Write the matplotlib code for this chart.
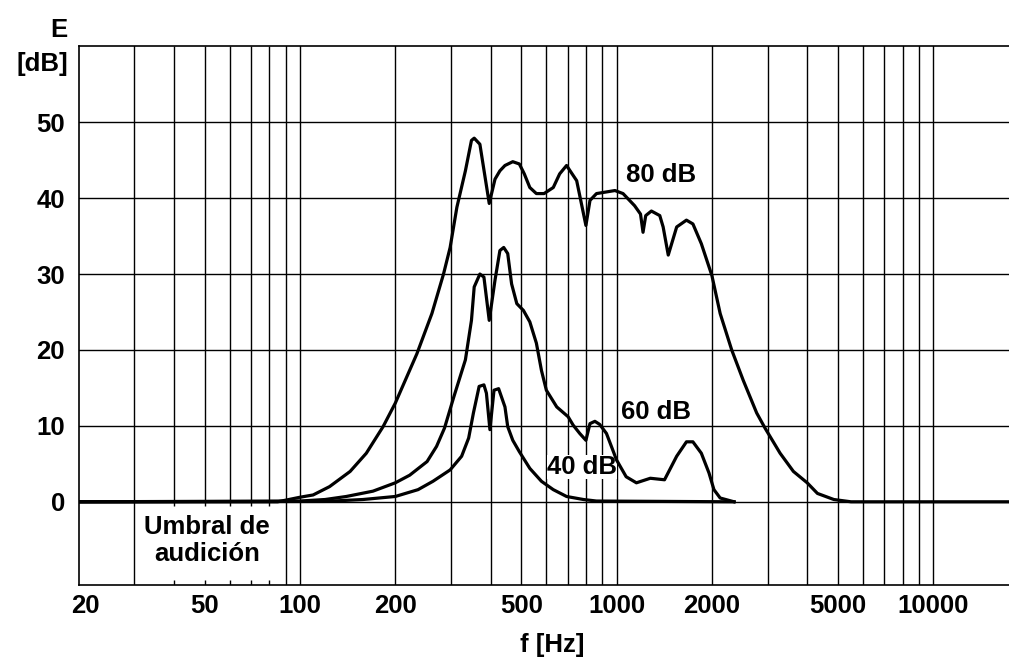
import matplotlib
matplotlib.use('Agg')
import matplotlib.pyplot as plt
import matplotlib.transforms as mtransforms
from matplotlib.ticker import NullLocator

plt.rcParams['font.family'] = ['Liberation Sans', 'DejaVu Sans']
plt.rcParams['font.weight'] = 'bold'
FONT_SIZE = 18.5

# curves: frequency [Hz] -> excitation E [dB]
f80 = [20, 85, 100, 110, 124, 144, 162, 183, 200, 234, 261, 284, 298, 313, 333, 348, 355, 370, 396, 413,
       428, 444, 470, 493, 511, 532, 558, 590, 631, 661, 695, 713, 748, 800, 824, 864, 988, 1048, 1140, 1190,
       1212, 1236, 1288, 1369, 1403, 1456, 1548, 1662, 1742, 1852, 2000, 2124, 2310, 2512, 2770, 2944, 3284, 3618, 4000, 4310,
       4855, 5500, 20000]
e80 = [0, 0, 0.6, 0.9, 2.0, 4.0, 6.4, 9.9, 13.0, 19.5, 24.8, 30.0, 33.5, 38.8, 43.6, 47.6, 47.9, 47.1, 39.3, 42.5,
       43.6, 44.3, 44.8, 44.5, 43.2, 41.4, 40.6, 40.6, 41.4, 43.2, 44.3, 43.6, 42.3, 36.4, 39.7, 40.6, 41.0, 40.6, 39.0, 37.9,
       35.5, 37.7, 38.3, 37.7, 36.2, 32.5, 36.2, 37.1, 36.6, 34.0, 29.8, 24.8, 20.0, 16.0, 11.7, 9.7, 6.4, 4.0, 2.5, 1.1,
       0.3, 0, 0]

f60 = [20, 100, 120, 140, 170, 200, 222, 252, 270, 286, 306, 333, 348, 355, 370, 381, 396, 413, 428, 440,
       453, 466, 484, 508, 532, 558, 579, 600, 647, 703, 729, 765, 800, 824, 854, 884, 929, 1000, 1072, 1155,
       1278, 1417, 1548, 1662, 1742, 1852, 1958, 2030, 2124, 2350]
e60 = [0, 0.1, 0.3, 0.7, 1.4, 2.5, 3.5, 5.3, 7.3, 9.7, 13.8, 18.7, 23.9, 28.3, 30.0, 29.6, 23.9, 29.2, 33.1, 33.5,
       32.7, 28.7, 26.1, 25.2, 23.7, 20.9, 17.3, 14.7, 12.5, 11.2, 10.1, 9.0, 8.1, 10.3, 10.6, 10.2, 9.0, 5.5, 3.3, 2.5,
       3.1, 2.9, 6.0, 7.9, 7.9, 6.4, 3.8, 1.6, 0.5, 0]

f40 = [20, 120, 158, 200, 236, 263, 298, 324, 341, 353, 368, 381, 388, 398, 410, 424, 444, 453, 470, 493,
       532, 579, 631, 695, 786, 864, 2350]
e40 = [0, 0.05, 0.3, 0.7, 1.6, 2.7, 4.2, 6.0, 8.4, 11.7, 15.2, 15.4, 14.3, 9.5, 14.7, 14.9, 12.5, 9.9, 8.1, 6.6,
       4.4, 2.7, 1.6, 0.7, 0.3, 0.1, 0]

xticks = [20, 50, 100, 200, 500, 1000, 2000, 5000, 10000]
yticks = [0, 10, 20, 30, 40, 50]
grid_full = [30, 90, 100, 200, 300, 400, 500, 600, 700, 800, 900, 1000,
             2000, 3000, 4000, 5000, 6000, 7000, 8000, 9000, 10000]
grid_short = [40, 50, 60, 70, 80]   # hidden behind the "Umbral" box below 0 dB

fig = plt.figure(figsize=(10.09, 6.57), dpi=100)
ax = fig.add_axes([0.078, 1 - 585.3 / 657, 0.922, 539 / 657])
ax.set_xscale('log')
ax.set_xlim(20, 17356)
ax.set_ylim(-11, 60)

# grid
for y in yticks:
    ax.axhline(y, color='black', lw=1.0, zorder=1)
for x in grid_full:
    ax.axvline(x, color='black', lw=1.0, zorder=1)
ax.vlines(grid_short, -0.55, 60, color='black', lw=1.0, zorder=1)
ax.vlines(grid_short, -11, -10.35, color='black', lw=1.0, zorder=1)

for f, e in [(f80, e80), (f60, e60), (f40, e40)]:
    ax.plot(f, e, color='black', lw=2.3, solid_joinstyle='round', zorder=4)

ax.text(1068, 43, '80 dB', ha='left', va='center', fontsize=FONT_SIZE, zorder=3)
ax.text(1034, 11.8, '60 dB', ha='left', va='center', fontsize=FONT_SIZE, zorder=3)
ax.text(604, 4.6, '40 dB', ha='left', va='center', fontsize=FONT_SIZE, zorder=3,
        bbox=dict(facecolor='white', edgecolor='none', pad=0))
ax.text(50.8, -5.1, 'Umbral de\naudición', ha='center', va='center', fontsize=FONT_SIZE,
        linespacing=1.12, zorder=3)

for side in ['left', 'top', 'bottom']:
    ax.spines[side].set_linewidth(1.2)
ax.spines['right'].set_visible(False)

ax.set_xticks(xticks)
ax.set_xticklabels([str(v) for v in xticks], fontsize=FONT_SIZE, fontweight='bold')
ax.xaxis.set_minor_locator(NullLocator())
ax.set_yticks(yticks)
ax.set_yticklabels([str(v) for v in yticks], fontsize=FONT_SIZE, fontweight='bold')
ax.tick_params(axis='x', length=0, pad=6)
ax.tick_params(axis='y', length=0, pad=10)

# nudge the "20" label off the left edge
lbl = ax.xaxis.get_major_ticks()[0].label1
lbl.set_transform(lbl.get_transform() + mtransforms.ScaledTranslation(0.07, 0, fig.dpi_scale_trans))

fig.text(68 / 1009, 1 - 30 / 657, 'E', ha='right', va='center', fontsize=FONT_SIZE)
fig.text(68 / 1009, 1 - 64 / 657, '[dB]', ha='right', va='center', fontsize=FONT_SIZE)
fig.text(552 / 1009, 1 - 645 / 657, 'f [Hz]', ha='center', va='center', fontsize=FONT_SIZE)

fig.savefig('out.png', dpi=100)
